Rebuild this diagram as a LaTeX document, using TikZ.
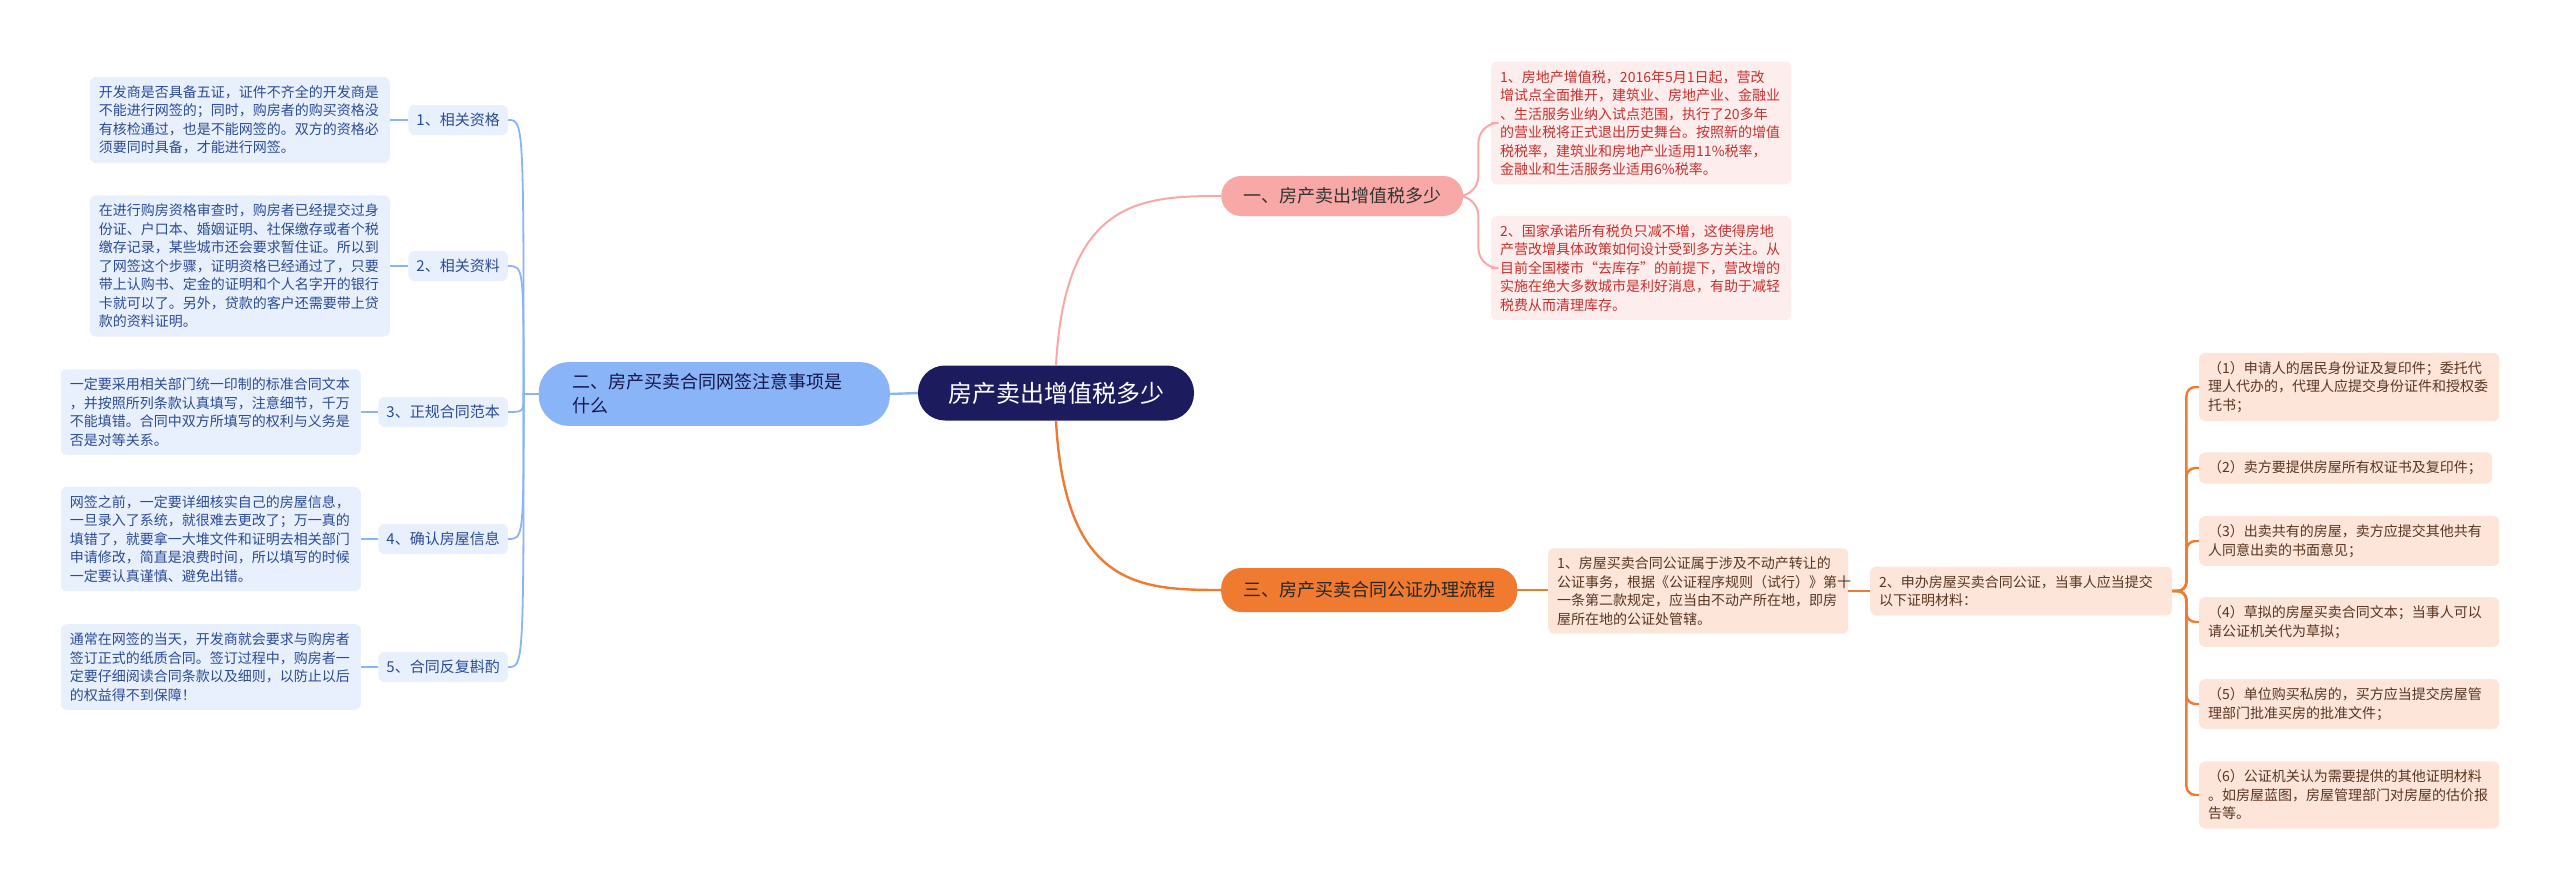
\documentclass[tikz,border=0pt]{standalone}
\usepackage{fontspec}
\setmainfont{Noto Sans CJK SC}
\usepackage{tikz}
\usetikzlibrary{positioning}
\usepackage{xcolor}
\definecolor{MapNavy}{HTML}{1C1B5E}
\definecolor{MapBlue}{HTML}{8AB4F8}
\definecolor{MapBlueLight}{HTML}{E8F0FD}
\definecolor{MapBlueText}{HTML}{2A4C94}
\definecolor{MapPink}{HTML}{F7A8A7}
\definecolor{MapPinkLight}{HTML}{FDEDED}
\definecolor{MapPinkText}{HTML}{C8302E}
\definecolor{MapOrange}{HTML}{F07A30}
\definecolor{MapOrangeLight}{HTML}{FDE5DA}
\definecolor{MapOrangeText}{HTML}{5A3620}

\tikzset{
  rootnode/.style={fill=MapNavy,text=white,rounded corners=27pt,minimum height=55pt,inner xsep=30pt,font=\fontsize{24}{28}\selectfont},
  branchnode/.style={rounded corners=20pt,minimum height=40pt,inner xsep=22pt,font=\fontsize{18}{24}\selectfont},
  subnode/.style={fill=MapBlueLight,text=MapBlueText,rounded corners=6pt,minimum height=30pt,inner xsep=8pt,font=\fontsize{15}{18}\selectfont},
  leafnode/.style={rounded corners=6pt,text width=282pt,inner xsep=9pt,inner ysep=8.5pt,align=left,font=\fontsize{14}{18.5}\selectfont},
  blueleaf/.style={leafnode,fill=MapBlueLight,text=MapBlueText},
  pinkleaf/.style={leafnode,fill=MapPinkLight,text=MapPinkText},
  orangeleaf/.style={leafnode,fill=MapOrangeLight,text=MapOrangeText},
  blueline/.style={line width=1.8pt,MapBlue},
  pinkline/.style={line width=2pt,MapPink,rounded corners=20pt},
  orangeline/.style={line width=2.4pt,MapOrange,rounded corners=9pt}
}

\begin{document}
\begin{tikzpicture}[x=1pt,y=-1pt]
  \fill[white] (0,0) rectangle (2560,891);

  % centre
  \node[rootnode] (root) at (1056,393) {房产卖出增值税多少};

  % left branch
  \node[fill=MapBlue,text=MapNavy!80!black,rounded corners=30pt,text width=283pt,inner xsep=34pt,inner ysep=11.5pt,align=left,font=\fontsize{18}{24}\selectfont,anchor=east] (b2) at (890,394) {二、房产买卖合同网签注意事项是\\什么};
  \coordinate (bj) at ([xshift=-15pt]b2.west);

  \node[subnode,anchor=east] (l1) at (508,120) {1、相关资格};
  \node[subnode,anchor=east] (l2) at (508,266) {2、相关资料};
  \node[subnode,anchor=east] (l3) at (508,412) {3、正规合同范本};
  \node[subnode,anchor=east] (l4) at (508,539) {4、确认房屋信息};
  \node[subnode,anchor=east] (l5) at (508,667) {5、合同反复斟酌};

  \node[blueleaf,anchor=east] (a1) at (390,120) {开发商是否具备五证，证件不齐全的开发商是\\不能进行网签的；同时，购房者的购买资格没\\有核检通过，也是不能网签的。双方的资格必\\须要同时具备，才能进行网签。};
  \node[blueleaf,anchor=east] (a2) at (390,266) {在进行购房资格审查时，购房者已经提交过身\\份证、户口本、婚姻证明、社保缴存或者个税\\缴存记录，某些城市还会要求暂住证。所以到\\了网签这个步骤，证明资格已经通过了，只要\\带上认购书、定金的证明和个人名字开的银行\\卡就可以了。另外，贷款的客户还需要带上贷\\款的资料证明。};
  \node[blueleaf,anchor=east] (a3) at (361,412) {一定要采用相关部门统一印制的标准合同文本\\，并按照所列条款认真填写，注意细节，千万\\不能填错。合同中双方所填写的权利与义务是\\否是对等关系。};
  \node[blueleaf,anchor=east] (a4) at (361,539) {网签之前，一定要详细核实自己的房屋信息，\\一旦录入了系统，就很难去更改了；万一真的\\填错了，就要拿一大堆文件和证明去相关部门\\申请修改，简直是浪费时间，所以填写的时候\\一定要认真谨慎、避免出错。};
  \node[blueleaf,anchor=east] (a5) at (361,667) {通常在网签的当天，开发商就会要求与购房者\\签订正式的纸质合同。签订过程中，购房者一\\定要仔细阅读合同条款以及细则，以防止以后\\的权益得不到保障！};

  % right branches
  \node[branchnode,fill=MapPink,text=black!80,anchor=west] (rb1) at (1221,196) {一、房产卖出增值税多少};
  \node[branchnode,fill=MapOrange,text=black!85,minimum height=44pt,anchor=west] (rb3) at (1221,590) {三、房产买卖合同公证办理流程};

  \node[pinkleaf,anchor=west] (p1) at (1491,123) {1、房地产增值税，2016年5月1日起，营改\\增试点全面推开，建筑业、房地产业、金融业\\、生活服务业纳入试点范围，执行了20多年\\的营业税将正式退出历史舞台。按照新的增值\\税税率，建筑业和房地产业适用11\%税率，\\金融业和生活服务业适用6\%税率。};
  \node[pinkleaf,anchor=west] (p2) at (1491,268) {2、国家承诺所有税负只减不增，这使得房地\\产营改增具体政策如何设计受到多方关注。从\\目前全国楼市“去库存”的前提下，营改增的\\实施在绝大多数城市是利好消息，有助于减轻\\税费从而清理库存。};

  \node[orangeleaf,anchor=west] (o1) at (1548,591) {1、房屋买卖合同公证属于涉及不动产转让的\\公证事务，根据《公证程序规则（试行）》第十\\一条第二款规定，应当由不动产所在地，即房\\屋所在地的公证处管辖。};
  \node[orangeleaf,text width=284pt,anchor=west] (o2) at (1870,591) {2、申办房屋买卖合同公证，当事人应当提交\\以下证明材料：};

  \node[orangeleaf,anchor=west] (c1) at (2199,387) {（1）申请人的居民身份证及复印件；委托代\\理人代办的，代理人应提交身份证件和授权委\\托书；};
  \node[orangeleaf,text width=275pt,anchor=west] (c2) at (2199,468) {（2）卖方要提供房屋所有权证书及复印件；};
  \node[orangeleaf,anchor=west] (c3) at (2199,541) {（3）出卖共有的房屋，卖方应提交其他共有\\人同意出卖的书面意见；};
  \node[orangeleaf,anchor=west] (c4) at (2199,622) {（4）草拟的房屋买卖合同文本；当事人可以\\请公证机关代为草拟；};
  \node[orangeleaf,anchor=west] (c5) at (2199,704) {（5）单位购买私房的，买方应当提交房屋管\\理部门批准买房的批准文件；};
  \node[orangeleaf,anchor=west] (c6) at (2199,795) {（6）公证机关认为需要提供的其他证明材料\\。如房屋蓝图，房屋管理部门对房屋的估价报\\告等。};

  % connectors
  \draw[blueline,line width=2.4pt] (root.west) -- (b2.east);
  \foreach \nd in {l1,l2,l3,l4,l5}
    \draw[blueline] (b2.west) -- (bj) .. controls (bj |- \nd.east) .. (\nd.east);
  \foreach \nd/\lf in {l1/a1,l2/a2,l3/a3,l4/a4,l5/a5}
    \draw[blueline] (\nd.west) -- (\nd.west -| \lf.east);

  \draw[pinkline] (root.north) .. controls (1065,200) and (1140,196) .. (rb1.west);
  \foreach \nd in {p1,p2}
    \draw[pinkline] (rb1.east) -- ++(15,0) |- (\nd.west);

  \draw[orangeline] (root.south) .. controls (1065,587) and (1140,590) .. (rb3.west);
  \draw[orangeline] (rb3.east) -- (rb3.east -| o1.west);
  \draw[orangeline] (o1.east) -- (o1.east -| o2.west);
  \foreach \nd in {c1,c2,c3,c4,c5,c6}
    \draw[orangeline] (o2.east) -- ++(14,0) |- (\nd.west);
\end{tikzpicture}
\end{document}
